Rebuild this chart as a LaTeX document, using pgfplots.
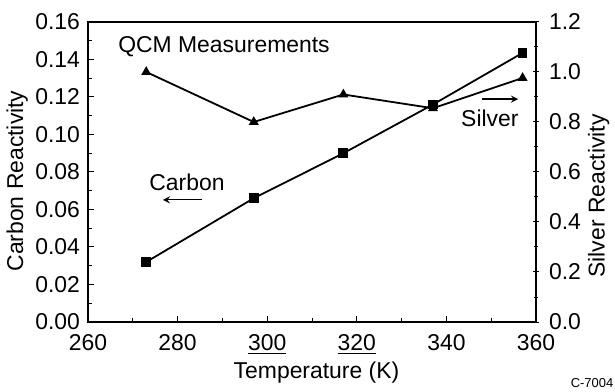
\documentclass[border=0pt]{standalone}
\usepackage{fontspec}
\setmainfont{Liberation Sans}
\usepackage{pgfplots}
\pgfplotsset{compat=1.18}

\begin{document}
\begin{tikzpicture}[font=\fontsize{11.5}{13}\selectfont]
\pgfplotsset{
  every axis/.append style={
    width=224bp, height=150bp, scale only axis,
    /pgf/number format/assume math mode=true,
    xmin=260, xmax=360,
    axis line style={line width=0.8pt},
    tick style={black, line width=0.5pt},
    major tick length=3pt, minor tick length=2pt,
  },
}
% carbon, left axis
\begin{axis}[
  ymin=0, ymax=0.16,
  xtick={260,280,300,320,340,360},
  xticklabels={260,280,\underline{300},\underline{320},340,360},
  ytick={0,0.02,0.04,0.06,0.08,0.10,0.12,0.14,0.16},
  yticklabel style={/pgf/number format/fixed,
    /pgf/number format/fixed zerofill,
    /pgf/number format/precision=2, xshift=-0.5pt},
  xticklabel style={yshift=-2.5pt},
  minor x tick num=1, minor y tick num=1,
  xtick pos=bottom, ytick pos=left,
  tick align=inside,
  xlabel={Temperature (K)},
  ylabel={Carbon Reactivity},
  xlabel style={at={(axis description cs:0.51,-0.167)}, anchor=center},
  ylabel style={at={(axis description cs:-0.158,0.47)}, anchor=center},
  clip=false,
]
\addplot[black, line width=0.9pt, mark=square*, mark size=2pt] coordinates {
  (273,0.032) (297,0.066) (317,0.090) (337,0.116) (357,0.1435)
};
\node[anchor=west] at (rel axis cs:0.052,0.917) {QCM Measurements};
\node at (rel axis cs:0.221,0.467) {Carbon};
\draw[-stealth, line width=0.6pt] (rel axis cs:0.254,0.407) -- (rel axis cs:0.167,0.407);
\node at (rel axis cs:0.897,0.68) {Silver};
\draw[-stealth, line width=0.6pt] (rel axis cs:0.879,0.743) -- (rel axis cs:0.96,0.743);
\node[font=\fontsize{6.5}{7}\selectfont] at (rel axis cs:1.125,-0.205) {C-7004};
\coordinate (bl) at (rel axis cs:-0.1964,-0.23);
\coordinate (tr) at (rel axis cs:1.1763,1.0733);
\end{axis}
% silver, right axis
\begin{axis}[
  axis x line=none, axis y line*=right,
  ymin=0, ymax=1.2,
  ytick={0,0.2,0.4,0.6,0.8,1.0,1.2},
  yticklabel style={/pgf/number format/fixed,
    /pgf/number format/fixed zerofill,
    /pgf/number format/precision=1, xshift=1.5pt},
  minor y tick num=1,
  tick align=center,
  ylabel={Silver Reactivity},
  ylabel style={at={(axis description cs:1.14,0.42)}, anchor=center},
]
\addplot[black, line width=0.9pt, mark=triangle*, mark size=2pt] coordinates {
  (273,1.0) (297,0.80) (317,0.91) (337,0.855) (357,0.976)
};
\end{axis}
\pgfresetboundingbox
\path (bl) rectangle (tr);
\end{tikzpicture}
\end{document}
